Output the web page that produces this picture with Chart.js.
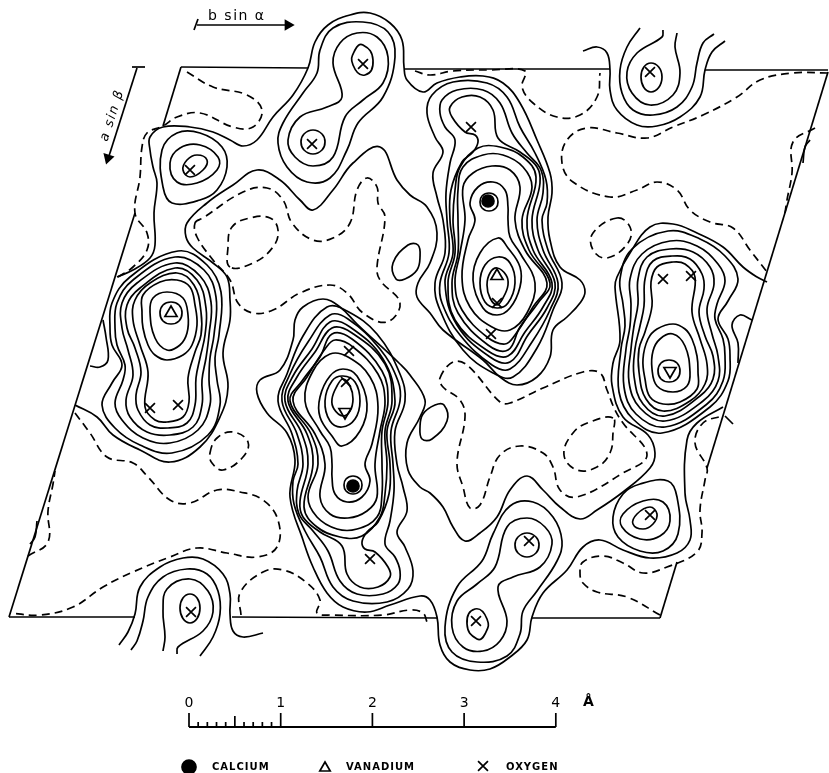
<!DOCTYPE html>
<html>
<head>
<meta charset="utf-8">
<style>
  html, body { margin: 0; background: #fff; }
  #wrap { width: 829px; height: 773px; }
</style>
<script src="https://cdn.jsdelivr.net/npm/chart.js@4"></script>
</head>
<body>
<div id="wrap"><canvas id="mapChart"></canvas></div>
<script>
Chart.defaults.plugins.legend.display = false;
Chart.defaults.plugins.tooltip.enabled = false;

const INK = '#000';

/* ── atoms ─────────────────────────────────────── */
const calcium = [[488,201],[353,486]];
const vanadiumUp = [[171,313],[497,276]];
const vanadiumDown = [[670,371],[345,412]];
const oxygen = [[190,170],[363,64],[312,144],[471,127],[497,303],[491,334],[650,72],[663,279],[691,276],[150,408],[178,405],[349,351],[346,382],[370,559],[191,612],[476,621],[529,541],[650,515]];

/* ── long open contours ────────────────────────── */
const longA = [[117,277],[133,270],[150,258],[155,245],[154,213],[157,183],[153,167],[150,150],[150,137],[163,127],[190,127],[213,132],[230,140],[243,146],[257,140],[273,117],[293,95],[308,68],[315,42],[328,25],[350,15],[370,13],[390,23],[402,40],[404,67],[407,80],[423,92],[437,83],[460,77],[483,76],[503,83],[520,103],[537,140],[550,173],[552,193],[548,217],[550,240],[560,267],[580,280],[585,292],[580,303],[567,317],[553,330],[550,357],[537,377],[517,385],[500,377],[483,360],[443,330],[430,313],[417,297],[418,283],[430,263],[437,233],[427,207],[410,195],[397,180],[380,147],[353,163],[333,190],[313,210],[300,200],[280,180],[257,170],[233,185],[207,203],[187,223],[186,237],[193,248],[213,263],[227,277],[230,300],[230,320],[223,353],[228,387],[220,417],[200,447],[170,462],[140,450],[113,435],[97,417],[75,405]];
const longB = [[723,407],[697,423],[687,440],[685,493],[690,520],[690,540],[677,553],[650,558],[623,550],[600,540],[583,547],[567,570],[543,593],[532,617],[527,640],[510,657],[490,669],[470,670],[450,662],[440,645],[437,617],[430,600],[420,596],[390,605],[367,612],[343,607],[327,593],[313,567],[303,540],[290,497],[295,460],[287,433],[267,413],[257,393],[260,380],[280,370],[293,340],[295,320],[303,307],[323,299],[340,307],[357,324],[400,364],[410,375],[425,400],[420,417],[407,443],[408,470],[420,487],[430,493],[443,507],[453,527],[465,541],[480,533],[497,517],[510,490],[527,476],[543,490],[560,507],[580,519],[597,510],[623,492],[650,468],[655,453],[648,435],[623,417],[612,385],[613,363],[620,340],[615,287],[617,277],[630,253],[650,227],[673,224],[697,233],[723,247],[743,267],[757,277],[767,282]];

/* ── half peaks cut by the cell edge ───────────── */
const topStub1 = [[583,51],[597,47],[607,53],[610,70],[610,90],[617,110],[637,125],[657,126],[680,117],[700,97],[705,70],[712,52],[725,41]];
const topStub2 = [[640,28],[627,47],[620,70],[622,93],[633,110],[653,115],[677,107],[692,87],[697,63],[703,43],[714,34]];
const topStub3 = [[663,30],[662,37],[637,53],[627,72],[632,93],[650,105],[673,95],[680,73],[675,47],[677,33]];
const botStub1 = [[263,633],[243,637],[233,631],[230,614],[230,594],[223,574],[203,559],[183,558],[160,567],[140,587],[135,614],[128,632],[119,645]];
const botStub2 = [[200,656],[213,637],[220,614],[218,591],[207,574],[187,569],[163,577],[148,597],[143,621],[137,641],[131,650]];
const botStub3 = [[177,654],[178,647],[203,631],[213,612],[208,591],[190,579],[167,589],[163,611],[165,637],[163,651]];
const edgeLeft = [[103,320],[106,337],[108,360],[100,367],[90,366]];
const edgeRight = [[752,320],[740,315],[732,325],[738,343],[738,363]];
const edgeNub1 = [[803,163],[805,147],[810,140]];
const edgeNub2 = [[37,521],[35,537],[30,544]];
const edgeNub3 = [[725,416],[733,424]];

/* ── closed rings: vanadium / oxygen peak, left ── */
const leftU5 = [[178,251],[207,265],[221,292],[219,335],[215,358],[217,380],[220,405],[208,435],[172,453],[140,445],[115,428],[102,405],[112,383],[122,365],[112,345],[110,328],[112,303],[130,277]];
const leftU4 = [[175,257],[204,270],[216,297],[214,335],[210,358],[209,380],[210,405],[198,430],[170,443],[143,438],[122,420],[115,403],[123,380],[125,365],[117,345],[115,328],[117,303],[133,280]];
const leftU3 = [[175,263],[200,276],[211,302],[209,335],[206,358],[202,380],[202,405],[193,427],[170,435],[147,432],[130,417],[126,400],[133,375],[128,350],[122,328],[122,303],[137,283]];
const leftU2 = [[175,268],[197,280],[206,308],[205,335],[200,358],[196,378],[195,405],[187,423],[168,428],[150,425],[138,410],[136,395],[141,372],[135,348],[127,328],[127,305],[140,288]];
const leftU1 = [[177,273],[194,285],[201,312],[201,335],[195,352],[188,378],[189,402],[183,417],[167,422],[155,420],[145,407],[148,372],[140,345],[133,320],[135,300],[150,283]];
const leftO3 = [[177,280],[190,287],[195,305],[197,325],[192,345],[183,355],[167,360],[155,355],[148,345],[143,328],[142,312],[143,295],[160,282]];
const leftO2 = [[167,292],[183,298],[188,315],[187,333],[180,345],[167,350],[155,338],[150,312],[153,298]];
const leftO1 = [[171,302],[179,305],[182,313],[179,321],[171,324],[163,321],[160,313],[163,305]];

/* ── same peak, right side ─────────────────────── */
const rightU5 = [[662,433],[633,419],[619,392],[621,349],[625,326],[623,304],[620,279],[632,249],[668,231],[700,239],[725,256],[738,279],[728,301],[718,319],[728,339],[730,356],[728,381],[710,407]];
const rightU4 = [[665,427],[636,414],[624,387],[626,349],[630,326],[631,304],[630,279],[642,254],[670,241],[697,246],[718,264],[725,281],[717,304],[715,319],[723,339],[725,356],[723,381],[707,404]];
const rightU3 = [[665,421],[640,408],[629,382],[631,349],[634,326],[638,304],[638,279],[647,257],[670,249],[693,252],[710,267],[714,284],[707,309],[712,334],[718,356],[718,381],[703,401]];
const rightU2 = [[665,416],[643,404],[634,376],[635,349],[640,326],[644,306],[645,279],[653,261],[672,256],[690,259],[702,274],[704,289],[699,312],[705,336],[713,356],[713,379],[700,396]];
const rightU1 = [[663,411],[646,399],[639,372],[639,349],[645,332],[652,306],[651,282],[657,267],[673,262],[685,264],[695,277],[692,312],[700,339],[707,364],[705,384],[690,401]];
const rightO3 = [[663,404],[650,397],[645,379],[643,359],[648,339],[657,329],[673,324],[685,329],[692,339],[697,356],[698,372],[697,389],[680,402]];
const rightO2 = [[673,392],[657,386],[652,369],[653,351],[660,339],[673,334],[685,346],[690,372],[687,386]];
const rightO1 = [[669,382],[661,379],[658,371],[661,363],[669,360],[677,363],[680,371],[677,379]];

/* ── calcium / vanadium peak, upper ────────────── */
const upperR1 = [[427,113],[432,95],[453,82],[487,83],[507,97],[520,127],[535,153],[546,180],[547,203],[542,220],[548,250],[562,283],[553,310],[537,348],[513,377],[493,373],[463,350],[440,310],[435,283],[445,253],[443,220],[437,197],[433,173],[443,152],[435,137]];
const upperR2 = [[440,113],[442,100],[457,90],[483,90],[500,103],[512,133],[527,153],[541,170],[543,193],[537,220],[543,250],[558,283],[550,310],[532,342],[510,369],[492,365],[460,335],[442,303],[440,283],[449,253],[447,220],[446,193],[450,163],[455,140],[445,127]];
const upperR3 = [[452,117],[450,107],[462,97],[480,97],[493,110],[498,138],[520,152],[537,167],[540,183],[532,220],[538,250],[555,283],[547,308],[528,335],[510,362],[490,357],[457,325],[445,283],[453,253],[450,220],[451,190],[462,162],[473,152],[478,142],[475,135],[465,132]];
const upperR4 = [[460,167],[478,148],[500,147],[523,157],[536,177],[527,220],[533,250],[552,283],[543,307],[525,332],[508,356],[488,351],[455,320],[448,283],[455,253],[453,220],[455,190]];
const upperR5 = [[463,167],[483,155],[503,155],[523,167],[532,187],[522,220],[529,250],[550,283],[538,303],[520,327],[508,350],[488,345],[458,313],[452,283],[458,253],[458,220],[458,190]];
const upperR6 = [[463,187],[473,173],[492,166],[510,170],[520,187],[515,220],[525,250],[547,283],[533,307],[515,335],[505,344],[487,337],[462,310],[455,283],[460,253],[465,220]];
const upperR7 = [[470,203],[478,187],[493,182],[505,190],[508,207],[508,220],[510,237],[520,253],[535,283],[527,313],[510,330],[492,327],[470,307],[462,277],[468,240],[475,220]];
const upperO3 = [[498,238],[508,248],[520,267],[520,287],[510,308],[497,315],[483,308],[473,280],[480,253]];
const upperO2 = [[498,257],[510,263],[515,283],[508,303],[497,308],[485,302],[480,283],[485,265]];
const upperO1 = [[497,268],[506,275],[508,285],[503,298],[497,305],[490,298],[487,285],[490,273]];
const upperCa = [[489,193],[496,196],[498,202],[496,208],[489,211],[482,208],[480,202],[482,196]];

/* ── calcium / vanadium peak, lower ────────────── */
const lowerR1 = [[413,571],[408,589],[387,602],[353,601],[333,587],[320,557],[305,531],[294,504],[293,481],[298,464],[292,434],[278,401],[287,374],[303,336],[327,307],[347,311],[377,334],[400,374],[405,401],[395,431],[397,464],[403,487],[407,511],[397,532],[405,547]];
const lowerR2 = [[400,571],[398,584],[383,594],[357,594],[340,581],[328,551],[313,531],[299,514],[297,491],[303,464],[297,434],[282,401],[290,374],[308,342],[330,315],[348,319],[380,349],[398,381],[400,401],[391,431],[393,464],[394,491],[390,521],[385,544],[395,557]];
const lowerR3 = [[388,567],[390,577],[378,587],[360,587],[347,574],[342,546],[320,532],[303,517],[300,501],[308,464],[302,434],[285,401],[293,376],[312,349],[330,322],[350,327],[383,359],[395,401],[387,431],[390,464],[389,494],[378,522],[367,532],[362,542],[365,549],[375,552]];
const lowerR4 = [[380,517],[362,536],[340,537],[317,527],[304,507],[313,464],[307,434],[288,401],[297,377],[315,352],[332,328],[352,333],[385,364],[392,401],[385,431],[387,464],[385,494]];
const lowerR5 = [[377,517],[357,529],[337,529],[317,517],[308,497],[318,464],[311,434],[290,401],[302,381],[320,357],[332,334],[352,339],[382,371],[388,401],[382,431],[382,464],[382,494]];
const lowerR6 = [[377,497],[367,511],[348,518],[330,514],[320,497],[325,464],[315,434],[293,401],[307,377],[325,349],[335,340],[353,347],[378,374],[385,401],[380,431],[375,464]];
const lowerR7 = [[370,481],[362,497],[347,502],[335,494],[332,477],[332,464],[330,447],[320,431],[305,401],[313,371],[330,354],[348,357],[370,377],[378,407],[372,444],[365,464]];
const lowerO3 = [[342,446],[332,436],[320,417],[320,397],[330,376],[343,369],[357,376],[367,404],[360,431]];
const lowerO2 = [[342,427],[330,421],[325,401],[332,381],[343,376],[355,382],[360,401],[355,419]];
const lowerO1 = [[343,416],[334,409],[332,399],[337,386],[343,379],[350,386],[353,399],[350,411]];
const lowerCa = [[353,494],[346,491],[344,485],[346,479],[353,476],[360,479],[362,485],[360,491]];

/* ── oxygen pairs and single oxygen peaks ──────── */
const pairTop2 = [[283,123],[278,143],[287,167],[307,182],[330,178],[347,150],[358,123],[383,97],[395,57],[388,32],[363,22],[333,28],[320,50],[317,73],[303,93]];
const pairTop3 = [[333,63],[342,97],[327,107],[300,117],[288,140],[295,157],[313,166],[333,157],[345,117],[363,100],[383,83],[388,57],[377,37],[357,33],[340,43]];
const pairTop4 = [[363,45],[373,60],[365,75],[353,65],[355,50]];
const pairTop5 = [[313,130],[322,134],[325,142],[322,150],[313,154],[304,150],[301,142],[304,134]];
const pairBot2 = [[557,561],[562,541],[553,517],[533,502],[510,506],[493,534],[482,561],[457,587],[445,627],[452,652],[477,662],[507,656],[520,634],[523,611],[537,591]];
const pairBot3 = [[507,621],[498,587],[513,577],[540,567],[552,544],[545,527],[527,518],[507,527],[495,567],[477,584],[457,601],[452,627],[463,647],[483,651],[500,641]];
const pairBot4 = [[477,639],[467,624],[475,609],[487,619],[485,634]];
const pairBot5 = [[527,533],[536,537],[539,545],[536,553],[527,557],[518,553],[515,545],[518,537]];
const soloA1 = [[162,150],[163,187],[172,203],[200,200],[217,190],[227,167],[222,147],[200,133],[177,133]];
const soloA2 = [[170,163],[177,182],[197,183],[217,170],[218,157],[200,145],[180,148]];
const soloA3 = [[183,170],[190,177],[203,170],[207,160],[197,155],[187,160]];
const soloB1 = [[678,534],[677,497],[668,481],[640,484],[623,494],[613,517],[618,537],[640,551],[663,551]];
const soloB2 = [[670,521],[663,502],[643,501],[623,514],[622,527],[640,539],[660,536]];
const soloB3 = [[657,514],[650,507],[637,514],[633,524],[643,529],[653,524]];
const soloTop = [[651,63],[662,77],[651,92],[641,77]];
const soloBot = [[190,594],[200,608],[190,623],[180,608]];
const islandA = [[393,263],[408,245],[418,245],[420,257],[417,270],[405,279],[396,279]];
const islandB = [[447,421],[432,439],[422,439],[420,427],[423,414],[435,405],[444,405]];

/* ── dashed contours ───────────────────────────── */
const dashA = [[187,72],[213,87],[247,95],[262,110],[253,127],[233,127],[200,113],[177,117],[163,126],[147,133],[142,147],[140,177],[135,213],[147,233],[147,250],[133,267],[118,277]];
const dashB = [[660,615],[627,597],[597,592],[583,583],[580,573],[583,562],[603,556],[623,563],[643,573],[667,567],[697,552],[702,533],[700,510],[705,480],[707,468],[695,443],[703,423],[722,416]];
const dashC = [[415,71],[430,75],[453,71],[490,70],[525,71],[522,87],[533,103],[557,117],[580,115],[597,97],[600,73]];
const dashD = [[241,615],[240,593],[263,572],[283,570],[307,583],[320,600],[317,613],[333,615],[383,615],[410,610],[423,613],[427,622]];
const dashE = [[828,73],[793,73],[760,80],[737,97],[703,115],[673,127],[647,138],[617,133],[587,128],[567,140],[562,163],[573,182],[610,197],[637,190],[657,182],[677,190],[690,210],[710,222],[733,228],[750,250],[767,272]];
const dashF = [[75,413],[90,433],[107,457],[133,463],[148,477],[170,500],[190,503],[217,490],[240,492],[263,500],[278,520],[277,547],[257,557],[227,553],[197,548],[170,557],[133,572],[103,587],[73,607],[40,615],[10,613]];
const dashG = [[815,128],[793,142],[792,173],[787,200],[785,213]];
const dashH = [[28,556],[48,542],[48,511],[53,484],[55,471]];
const dashLoopA = [[195,223],[203,218],[243,192],[267,188],[283,200],[292,223],[313,240],[333,238],[350,223],[357,190],[367,178],[377,187],[378,203],[385,217],[377,267],[380,280],[400,303],[387,322],[363,313],[347,293],[330,285],[300,293],[273,310],[253,313],[238,303],[230,280],[213,260],[197,237]];
const dashLoopB = [[440,378],[453,362],[467,365],[500,402],[510,403],[543,388],[583,372],[600,373],[607,390],[615,410],[623,423],[647,455],[623,473],[577,497],[560,490],[553,467],[543,453],[520,446],[500,455],[490,477],[480,505],[470,508],[463,487],[457,463],[465,417],[460,400],[443,387]];
const dashLoopC = [[230,267],[228,247],[232,227],[250,218],[270,218],[278,230],[273,247],[253,263]];
const dashLoopD = [[613,418],[590,422],[573,433],[564,455],[577,470],[597,467],[610,453],[613,433]];
const dashLoopE = [[617,218],[630,227],[628,243],[607,258],[593,250],[593,233]];
const dashLoopF = [[210,453],[217,438],[233,432],[248,442],[243,457],[223,470],[212,463]];

/* ── cell edges, drawn in pieces between the contours ── */
const edges = [
  [[181,67],[308,68]], [[405,69],[610,69]], [[705,70],[828,70]],
  [[9,617],[135,617]], [[232,617],[437,618]], [[532,618],[660,618]],
  [[181,67],[163,126]], [[135,213],[9,617]],
  [[828,72],[707,468]], [[677,562],[660,618]],
];

/* ── direction arrows ──────────────────────────── */
const arrowB = [[197,25],[287,25]];
const arrowBTick = [[198,19],[194,30]];
const arrowBTip = [[288,25]];
const arrowA = [[137,68],[109,156]];
const arrowATick = [[132,67],[145,67]];
const arrowATip = [[108,158]];

/* ── scale bar in angstrom ─────────────────────── */
const scaleLabels = ['0','1','2','3','4'];
const scaleMajor = [0,1,2,3,4];
const scaleMid = [0.5];
const scaleMinor = [0.1,0.2,0.3,0.4,0.6,0.7,0.8,0.9];

/* ── legend ────────────────────────────────────── */
const legendCalcium = [[189,767]];
const legendVanadium = [[325,768]];
const legendOxygen = [[483,766]];

const contour = (data, dashed) => ({
  data, showLine: true, tension: 0.4, pointRadius: 0,
  borderColor: INK, borderWidth: 1.7, borderDash: dashed ? [8, 5] : [], xAxisID: 'x', yAxisID: 'y',
});
// wrap one point past each end so the join stays smooth, hide those two pieces
const ring = (data, dashed) => {
  const n = data.length;
  const wrapped = [data[n - 1], ...data, data[0], data[1]];
  return {
    ...contour(wrapped, dashed),
    tension: n <= 5 ? 0.55 : n <= 8 ? 0.42 : 0.4,
    segment: { borderColor: ctx => (ctx.p0DataIndex === 0 || ctx.p1DataIndex === n + 2) ? 'rgba(0,0,0,0)' : INK },
  };
};
const straight = data => ({ ...contour(data), tension: 0 });
const marks = (data, pointStyle, radius, extra) => ({
  data, showLine: false, pointStyle, pointRadius: radius, pointBorderColor: INK,
  pointBackgroundColor: 'rgba(0,0,0,0)', pointBorderWidth: 1.7, xAxisID: 'x', yAxisID: 'y', ...extra,
});
const ticksFrom = (values, top) => values.flatMap(v => [[v, 727], [v, top], [v, NaN]]);
const scaleLine = data => ({ ...straight(data), xAxisID: 'xA' });

const openLines = [longA, longB, topStub1, topStub2, topStub3, botStub1, botStub2, botStub3, edgeLeft, edgeRight, edgeNub1, edgeNub2, edgeNub3];
const rings = [
  leftU5, leftU4, leftU3, leftU2, leftU1, leftO3, leftO2, leftO1,
  rightU5, rightU4, rightU3, rightU2, rightU1, rightO3, rightO2, rightO1,
  upperR1, upperR2, upperR3, upperR4, upperR5, upperR6, upperR7, upperO3, upperO2, upperO1, upperCa,
  lowerR1, lowerR2, lowerR3, lowerR4, lowerR5, lowerR6, lowerR7, lowerO3, lowerO2, lowerO1, lowerCa,
  pairTop2, pairTop3, pairTop4, pairTop5, pairBot2, pairBot3, pairBot4, pairBot5,
  soloA1, soloA2, soloA3, soloB1, soloB2, soloB3, soloTop, soloBot, islandA, islandB,
];
const dashOpen = [dashA, dashB, dashC, dashD, dashE, dashF, dashG, dashH];
const dashRings = [dashLoopA, dashLoopB, dashLoopC, dashLoopD, dashLoopE, dashLoopF];

/* ── text drawn from the same scales ───────────── */
const textPlugin = {
  id: 'mapText',
  afterDatasetsDraw(chart) {
    const { ctx, scales } = chart;
    const put = (str, x, y, font, spacing, angle) => {
      ctx.save();
      ctx.translate(scales.x.getPixelForValue(x), scales.y.getPixelForValue(y));
      ctx.rotate(angle || 0);
      ctx.font = font;
      ctx.letterSpacing = spacing || '0px';
      ctx.fillStyle = INK;
      ctx.textAlign = 'left';
      ctx.textBaseline = 'middle';
      ctx.fillText(str, 0, 0);
      ctx.restore();
    };
    const tickFont = '500 14px "DejaVu Sans"';
    scaleLabels.forEach((s, i) => {
      const px = scales.xA.getPixelForValue(scaleMajor[i]);
      ctx.save();
      ctx.font = tickFont; ctx.fillStyle = INK; ctx.textAlign = 'center'; ctx.textBaseline = 'middle';
      ctx.fillText(s, px, 703);
      ctx.restore();
    });
    put('Å', 583, 702, 'bold 14px "DejaVu Sans"');
    put('b sin α', 208, 16, '14px "DejaVu Sans"', '1.5px');
    put('a sin β', 104, 141, 'italic 13px "DejaVu Sans"', '1.5px', -72 * Math.PI / 180);
    const legendFont = 'bold 10px "DejaVu Sans"';
    put('CALCIUM', 212, 767, legendFont, '1px');
    put('VANADIUM', 346, 767, legendFont, '1px');
    put('OXYGEN', 506, 767, legendFont, '1px');
  },
};

new Chart(document.getElementById('mapChart'), {
  type: 'scatter',
  data: {
    datasets: [
      ...openLines.map(d => contour(d)),
      ...rings.map(d => ring(d)),
      ...dashOpen.map(d => contour(d, true)),
      ...dashRings.map(d => ring(d, true)),
      ...edges.map(straight),
      straight(arrowB), straight(arrowBTick), straight(arrowA), straight(arrowATick),
      marks(arrowBTip, 'triangle', 5, { pointRotation: 90, pointBackgroundColor: INK }),
      marks(arrowATip, 'triangle', 5, { pointRotation: 197, pointBackgroundColor: INK }),
      marks(oxygen, 'crossRot', 7),
      marks(vanadiumUp, 'triangle', 7),
      marks(vanadiumDown, 'triangle', 7, { pointRotation: 180 }),
      marks(calcium, 'circle', 6, { pointBackgroundColor: INK }),
      scaleLine(ticksFrom(scaleMajor, 713)),
      scaleLine(ticksFrom(scaleMid, 716)),
      scaleLine(ticksFrom(scaleMinor, 722)),
      { ...scaleLine([[0, 727], [4, 727]]), borderWidth: 2 },
      marks(legendCalcium, 'circle', 7, { pointBackgroundColor: INK }),
      marks(legendVanadium, 'triangle', 6),
      marks(legendOxygen, 'crossRot', 7),
    ],
  },
  options: {
    responsive: true, maintainAspectRatio: false, animation: false,
    layout: { padding: 0, autoPadding: false },
    scales: {
      x: { type: 'linear', display: false, min: 0, max: 829 },
      xA: { type: 'linear', display: false, min: -2.061, max: 6.979 },
      y: { type: 'linear', display: false, min: 0, max: 773, reverse: true },
    },
    plugins: { legend: { display: false }, tooltip: { enabled: false } },
  },
  plugins: [textPlugin],
});
</script>
</body>
</html>
